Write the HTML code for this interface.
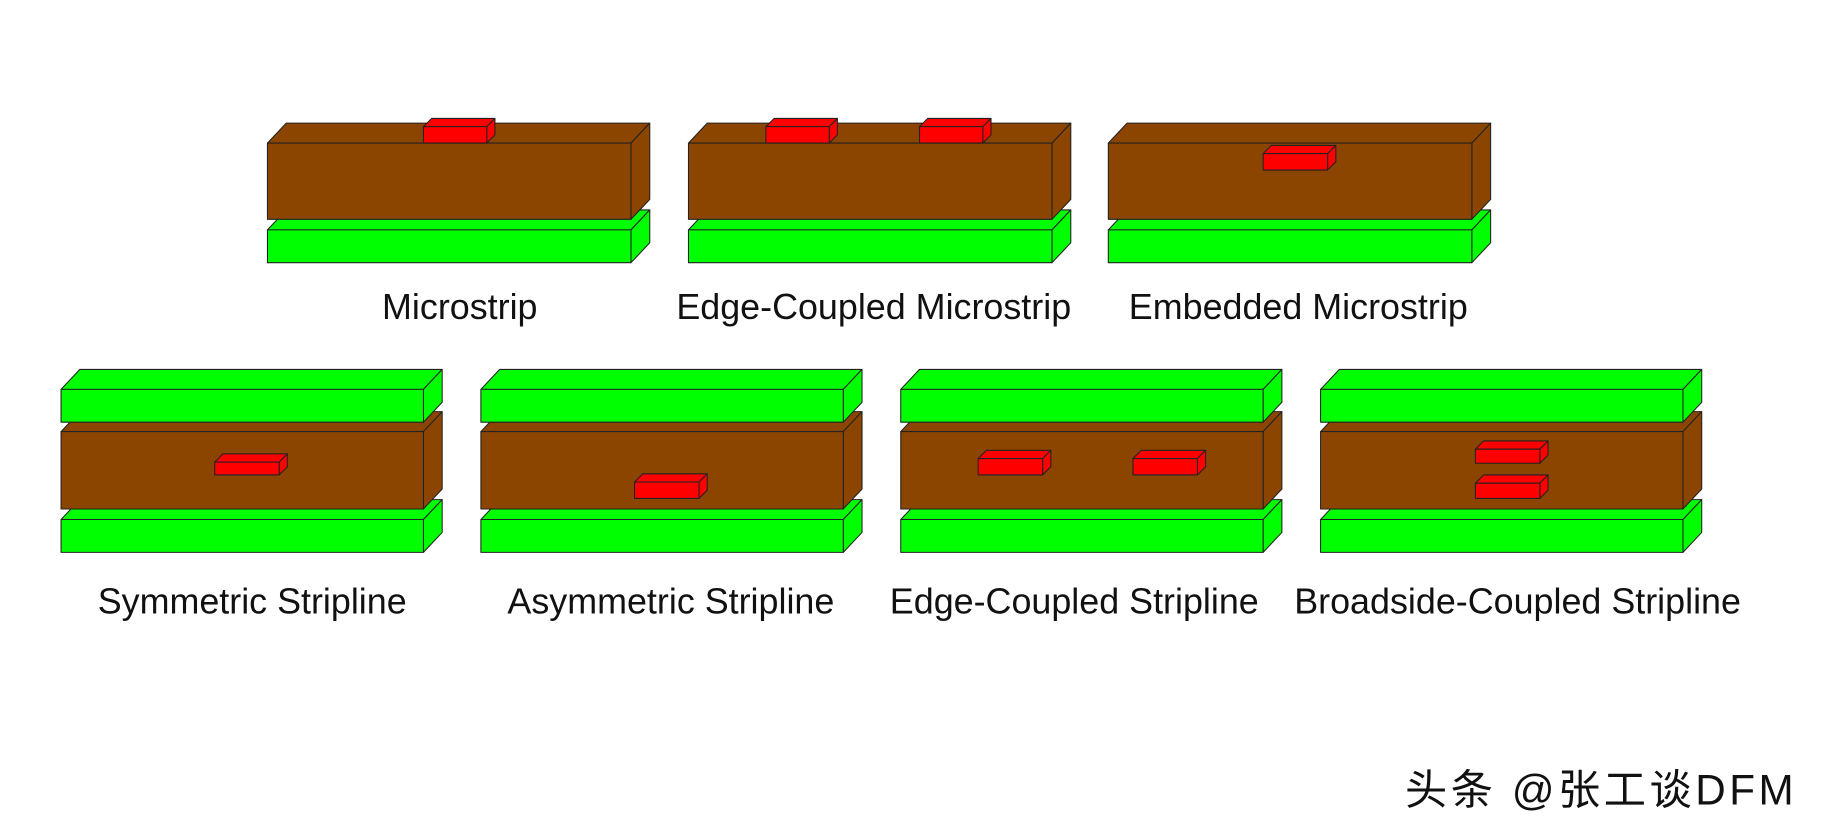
<!DOCTYPE html>
<html><head><meta charset="utf-8"><style>
html,body{margin:0;padding:0;background:#fff;width:1839px;height:835px;overflow:hidden}
svg{display:block}
text{font-family:"Liberation Sans","Noto Sans CJK SC",sans-serif;fill:#111}
</style></head><body>
<svg id="s" width="1839" height="835" viewBox="0 0 1568 712" xmlns="http://www.w3.org/2000/svg">
<g id="g" stroke="#222" stroke-width="0.9" stroke-linejoin="round"></g>
<g font-size="30.6" text-anchor="middle">
<text x="392" y="272">Microstrip</text>
<text x="745" y="272">Edge-Coupled Microstrip</text>
<text x="1107" y="272">Embedded Microstrip</text>
<text x="215" y="523">Symmetric Stripline</text>
<text x="572" y="523">Asymmetric Stripline</text>
<text x="916" y="523">Edge-Coupled Stripline</text>
<text x="1294" y="523">Broadside-Coupled Stripline</text>
</g>
<text x="1198" y="686" font-size="36" letter-spacing="3" fill="#222">头条 @张工谈DFM</text>
</svg>
<script>
var g=document.getElementById('g'),h='';
function box(x,y,w,hh,dx,dy,c){
 h+='<polygon fill="'+c+'" points="'+x+','+y+' '+(x+dx)+','+(y-dy)+' '+(x+w+dx)+','+(y-dy)+' '+(x+w)+','+y+'"/>';
 h+='<polygon fill="'+c+'" points="'+(x+w)+','+y+' '+(x+w+dx)+','+(y-dy)+' '+(x+w+dx)+','+(y+hh-dy)+' '+(x+w)+','+(y+hh)+'"/>';
 h+='<rect fill="'+c+'" x="'+x+'" y="'+y+'" width="'+w+'" height="'+hh+'"/>';
}
var B='#8B4500',G='#00FF00',R='#FF0000';
[228,587,945].forEach(function(x){box(x,196,310,28,16,17,G);});
[228,587,945].forEach(function(x){box(x,122,310,65,16,17,B);});
box(361,108,54,14,7,7,R);
box(653,108,54,14,7,7,R);box(784,108,54,14,7,7,R);
box(1077,131,55,14,7,7,R);
[52,410,768,1126].forEach(function(x){
 box(x,443,309,28,16,17,G);
 box(x,368,309,66,16,17,B);
 box(x,332,309,28,16,17,G);
});
box(183,394,55,11,7,7,R);
box(541,411,55,14,7,7,R);
box(834,391,55,14,7,7,R);box(966,391,55,14,7,7,R);
box(1258,383,55,12,7,7,R);box(1258,412,55,13,7,7,R);
g.innerHTML=h;
</script>
</body></html>
